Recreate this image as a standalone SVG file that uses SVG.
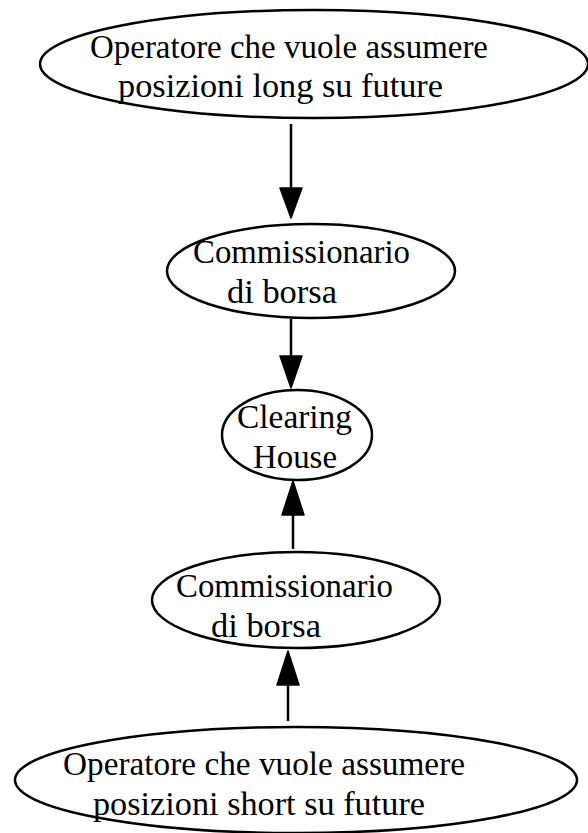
<svg xmlns="http://www.w3.org/2000/svg" width="588" height="833" viewBox="0 0 588 833">
<style>
.n ellipse{fill:none;stroke:#000;stroke-width:2.5}
text{font-family:"Liberation Serif","Times New Roman",serif;font-size:34px;fill:#000}
.e line{stroke:#000;stroke-width:2.5}
.e polygon{fill:#000;stroke:#000;stroke-width:1.5;stroke-linejoin:round}
</style>
<rect width="588" height="833" fill="#fff"/>
<g class="e" id="edges">
<line x1="291" y1="124" x2="291" y2="190"/>
<polygon points="280,188 302,188 291,218"/>
<line x1="291" y1="319" x2="291" y2="358"/>
<polygon points="280,356 302,356 291,388"/>
<line x1="293" y1="549" x2="293" y2="513"/>
<polygon points="282,515 304,515 293,481"/>
<line x1="288" y1="721" x2="288" y2="683"/>
<polygon points="277,685 299,685 288,651"/>
</g>
<g class="n" id="n1">
<ellipse cx="314" cy="64" rx="274" ry="54"/>
<text x="90" y="58" textLength="398" lengthAdjust="spacingAndGlyphs">Operatore che vuole assumere</text>
<text x="118" y="97" textLength="325" lengthAdjust="spacingAndGlyphs">posizioni long su future</text>
</g>
<g class="n" id="n2">
<ellipse cx="311" cy="271" rx="144" ry="47"/>
<text x="193" y="263" textLength="217" lengthAdjust="spacingAndGlyphs">Commissionario</text>
<text x="227" y="303" textLength="110" lengthAdjust="spacingAndGlyphs">di borsa</text>
</g>
<g class="n" id="n3">
<ellipse cx="297" cy="435" rx="75" ry="45"/>
<text x="237" y="428" textLength="115" lengthAdjust="spacingAndGlyphs">Clearing</text>
<text x="253" y="468" textLength="84" lengthAdjust="spacingAndGlyphs">House</text>
</g>
<g class="n" id="n4">
<ellipse cx="296" cy="600" rx="144" ry="48"/>
<text x="176" y="597" textLength="217" lengthAdjust="spacingAndGlyphs">Commissionario</text>
<text x="211" y="637" textLength="110" lengthAdjust="spacingAndGlyphs">di borsa</text>
</g>
<g class="n" id="n5">
<ellipse cx="296" cy="780" rx="281" ry="53"/>
<text x="63" y="775" textLength="402" lengthAdjust="spacingAndGlyphs">Operatore che vuole assumere</text>
<text x="93" y="815" textLength="332" lengthAdjust="spacingAndGlyphs">posizioni short su future</text>
</g>
</svg>
